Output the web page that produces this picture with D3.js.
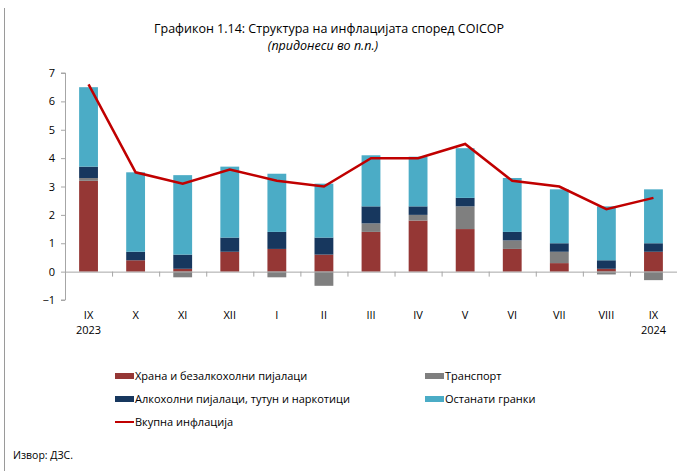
<!DOCTYPE html>
<html>
<head>
<meta charset="utf-8">
<script src="https://cdn.jsdelivr.net/npm/d3@7"></script>
<style>
  body { margin: 0; background: #fff; }
  svg { font-family: 'Open Sans', sans-serif; }
</style>
</head>
<body>
<script>
const months = ['IX', 'X', 'XI', 'XII', 'I', 'II', 'III', 'IV', 'V', 'VI', 'VII', 'VIII', 'IX'];
const years = ['2023', '', '', '', '', '', '', '', '', '', '', '', '2024'];

const food = [3.2, 0.4, 0.1, 0.7, 0.8, 0.6, 1.4, 1.8, 1.5, 0.8, 0.3, 0.1, 0.7];
const transport = [0.1, 0, -0.2, 0, -0.2, -0.5, 0.3, 0.2, 0.8, 0.3, 0.4, -0.1, -0.3];
const alcohol = [0.4, 0.3, 0.5, 0.5, 0.6, 0.6, 0.6, 0.3, 0.3, 0.3, 0.3, 0.3, 0.3];
const other = [2.8, 2.8, 2.8, 2.5, 2.05, 1.9, 1.8, 1.75, 1.75, 1.9, 1.9, 1.9, 1.9];
const total = [6.6, 3.5, 3.1, 3.6, 3.2, 3.0, 4.0, 4.0, 4.5, 3.2, 3.0, 2.2, 2.6];

const seriesNames = ['Храна и безалкохолни пијалаци', 'Транспорт', 'Алкохолни пијалаци, тутун и наркотици', 'Останати гранки'];
const lineName = 'Вкупна инфлација';
const colors = ['#953735', '#7f7f7f', '#17375e', '#4bacc6'];
const series = [food, transport, alcohol, other];

const width = 681;
const height = 471;
const plotLeft = 65, plotRight = 677, plotTop = 73, plotBottom = 300;

const svg = d3.select('body')
              .append('svg')
              .attr('width', width)
              .attr('height', height);

// frame edge on the left
svg.append('line')
    .attr('x1', 4.5).attr('x2', 4.5)
    .attr('y1', 8).attr('y2', height)
    .attr('stroke', '#9a9a9a');

svg.append('text')
    .attr('x', 329).attr('y', 33)
    .attr('text-anchor', 'middle')
    .style('font-size', '12.5px')
    .text('Графикон 1.14: Структура на инфлацијата според COICOP');

svg.append('text')
    .attr('x', 323).attr('y', 50)
    .attr('text-anchor', 'middle')
    .style('font-size', '12.5px')
    .style('font-style', 'italic')
    .text('(придонеси во п.п.)');

const xScale = d3.scaleBand()
                 .domain(d3.range(months.length))
                 .range([plotLeft, plotRight])
                 .padding(0);

const yScale = d3.scaleLinear()
                 .domain([-1, 7])
                 .range([plotBottom, plotTop]);

const yAxis = d3.axisLeft(yScale)
                .tickValues(d3.range(-1, 8))
                .tickSize(4)
                .tickPadding(6)
                .tickFormat(d3.format('d'));

const gy = svg.append('g')
              .attr('transform', 'translate(' + plotLeft + ',0)')
              .style('font-size', '11px')
              .style('font-family', 'Open Sans')
              .call(yAxis);
gy.selectAll('path, line').attr('stroke', '#a6a6a6');
gy.select('.domain').attr('d', 'M-4,' + yScale(-1) + 'H0.5V' + yScale(7) + 'H-4');

// stack positive and negative parts separately
const bw = xScale.bandwidth() * 0.4;
months.forEach((m, i) => {
    let pos = 0, neg = 0;
    series.forEach((s, k) => {
        const v = s[i];
        if (v === 0) return;
        let y0, y1;
        if (v > 0) { y0 = pos; y1 = pos + v; pos = y1; }
        else { y0 = neg; y1 = neg + v; neg = y1; }
        svg.append('rect')
            .attr('x', xScale(i) + (xScale.bandwidth() - bw) / 2)
            .attr('y', yScale(Math.max(y0, y1)))
            .attr('width', bw)
            .attr('height', Math.abs(yScale(y0) - yScale(y1)))
            .attr('fill', colors[k]);
    });
});

// x axis on zero
const xAxisG = svg.append('g');
xAxisG.append('line')
    .attr('x1', plotLeft).attr('x2', plotRight)
    .attr('y1', yScale(0) + 0.5).attr('y2', yScale(0) + 0.5)
    .attr('stroke', '#a6a6a6');
d3.range(1, months.length).forEach(i => {
    xAxisG.append('line')
        .attr('x1', xScale(i) + 0.5).attr('x2', xScale(i) + 0.5)
        .attr('y1', yScale(0)).attr('y2', yScale(0) + 5)
        .attr('stroke', '#a6a6a6');
});

svg.selectAll('.mlabel')
    .data(months)
    .enter()
    .append('text')
    .attr('class', 'mlabel')
    .attr('x', (d, i) => xScale(i) + xScale.bandwidth() / 2)
    .attr('y', 319)
    .attr('text-anchor', 'middle')
    .style('font-size', '11px')
    .text(d => d);

svg.selectAll('.ylabel')
    .data(years)
    .enter()
    .append('text')
    .attr('class', 'ylabel')
    .attr('x', (d, i) => xScale(i) + xScale.bandwidth() / 2)
    .attr('y', 334)
    .attr('text-anchor', 'middle')
    .style('font-size', '11px')
    .text(d => d);

const line = d3.line()
               .x((d, i) => xScale(i) + xScale.bandwidth() / 2)
               .y(d => yScale(d));

svg.append('path')
    .datum(total)
    .attr('d', line)
    .attr('fill', 'none')
    .attr('stroke', '#c00000')
    .attr('stroke-width', 2.5);

// legend
const legendPos = [[115, 376], [425, 376], [115, 399], [425, 399]];
seriesNames.forEach((name, k) => {
    const [lx, ly] = legendPos[k];
    svg.append('rect')
        .attr('x', lx).attr('y', ly - 3)
        .attr('width', 19).attr('height', 6)
        .attr('fill', colors[k]);
    svg.append('text')
        .attr('x', lx + 20).attr('y', ly + 4)
        .style('font-size', '11px')
        .text(name);
});
svg.append('line')
    .attr('x1', 115).attr('x2', 134)
    .attr('y1', 422).attr('y2', 422)
    .attr('stroke', '#c00000')
    .attr('stroke-width', 2);
svg.append('text')
    .attr('x', 135).attr('y', 426)
    .style('font-size', '11px')
    .text(lineName);

svg.append('text')
    .attr('x', 13).attr('y', 459)
    .style('font-size', '10.5px')
    .text('Извор: ДЗС.');
</script>
</body>
</html>
